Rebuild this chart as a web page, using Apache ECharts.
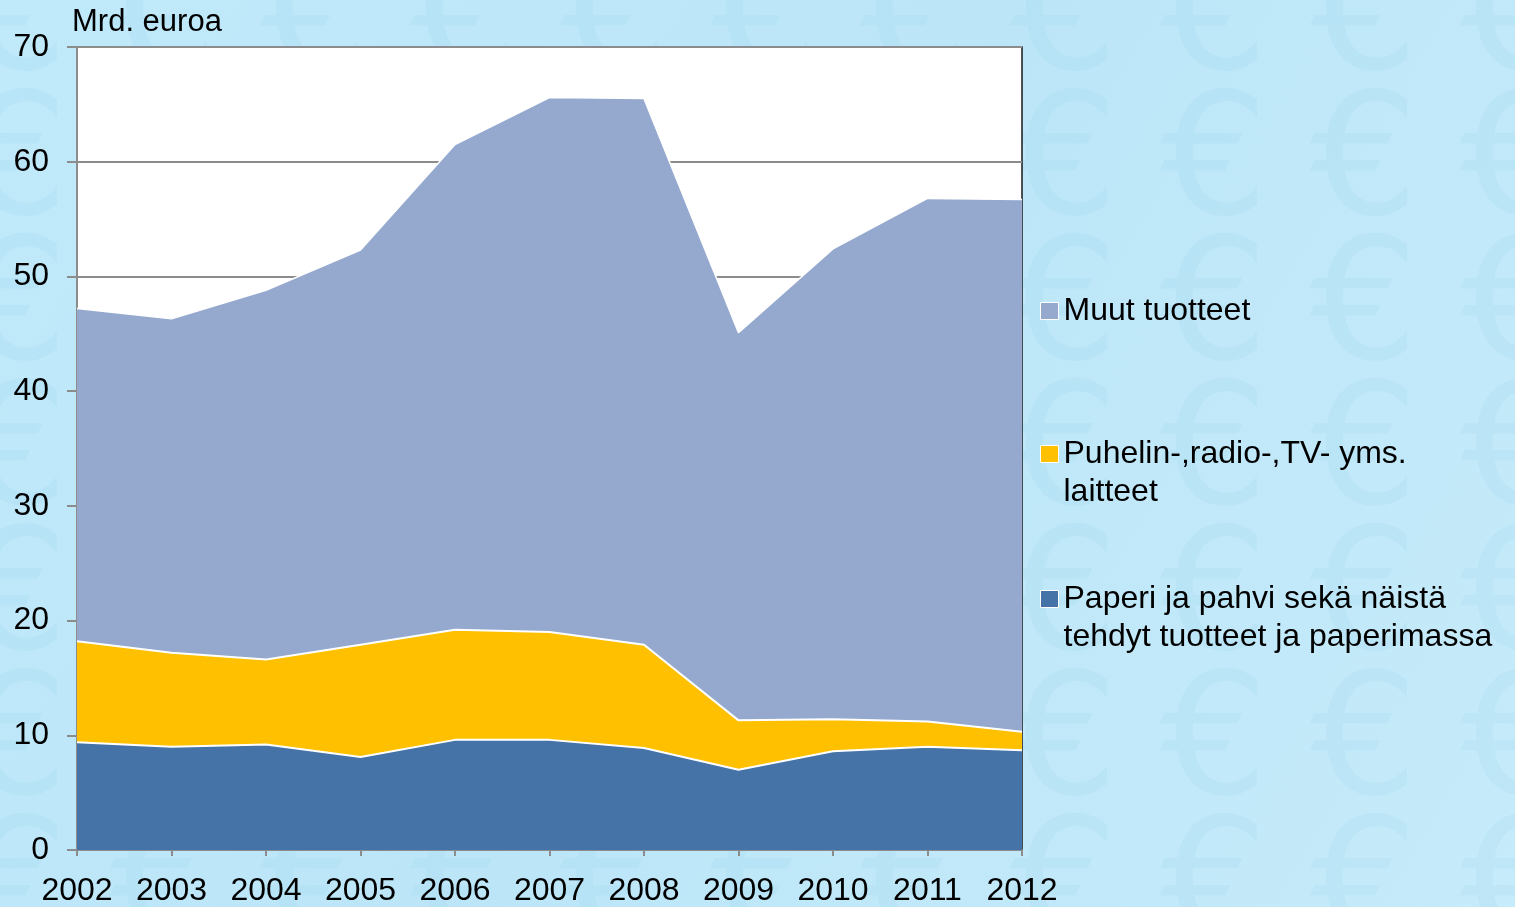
<!DOCTYPE html>
<html>
<head>
<meta charset="utf-8">
<script src="https://cdn.jsdelivr.net/npm/echarts@6/dist/echarts.min.js"></script>
<style>
html,body{margin:0;padding:0;}
#c{width:1515px;height:907px;}
</style>
</head>
<body>
<div id="c"></div>
<script>
const years = ['2002','2003','2004','2005','2006','2007','2008','2009','2010','2011','2012'];
const paperi = [9.4, 9.0, 9.2, 8.1, 9.6, 9.6, 8.9, 7.0, 8.6, 9.0, 8.7];
const puhelin = [8.8, 8.2, 7.4, 9.8, 9.6, 9.4, 9.0, 4.3, 2.8, 2.2, 1.6];
const muut = [29.0, 29.1, 32.2, 34.4, 42.3, 46.6, 47.6, 33.8, 41.0, 45.6, 46.4];
const yTicks = [0, 10, 20, 30, 40, 50, 60, 70];

const nameMuut = 'Muut tuotteet';
const namePuhelin = 'Puhelin-,radio-,TV- yms.\nlaitteet';
const namePaperi = 'Paperi ja pahvi sekä näistä\ntehdyt tuotteet ja paperimassa';

const FONT = '"Liberation Sans", Arial, sans-serif';

// decorative euro watermark
const deco = [];
for (let r = 0; r < 8; r++) {
  for (let c = 0; c < 11; c++) {
    deco.push({
      type: 'text', silent: true, z: -10,
      left: -40 + c * 150, top: -60 + r * 145,
      style: { text: '€', font: '170px "DejaVu Sans", sans-serif', fill: 'rgba(110,185,225,0.09)' }
    });
  }
}

const chart = echarts.init(document.getElementById('c'));
const legendBase = {
  orient: 'vertical', left: 1040, padding: 0,
  itemWidth: 18, itemHeight: 17,
  icon: 'rect',
  itemStyle: { borderColor: '#ffffff', borderWidth: 1 },
  textStyle: { fontFamily: FONT, fontSize: 32, color: '#000', lineHeight: 38 }
};
chart.setOption({
  backgroundColor: {
    type: 'linear', x: 0, y: 0, x2: 1, y2: 1,
    colorStops: [{ offset: 0, color: '#c0e9fa' }, { offset: 0.5, color: '#bce6f8' }, { offset: 1, color: '#c6ebfa' }]
  },
  graphic: deco,
  grid: {
    left: 77, right: 493, top: 47, bottom: 56,
    show: true, backgroundColor: '#ffffff', borderColor: '#1a1a1a', borderWidth: 1.5
  },
  legend: [
    Object.assign({}, legendBase, { top: 292, data: [nameMuut] }),
    Object.assign({}, legendBase, { top: 397, data: [namePuhelin], formatter: n => '\n' + n }),
    Object.assign({}, legendBase, { top: 542, data: [namePaperi], formatter: n => '\n' + n })
  ],
  xAxis: {
    type: 'category', data: years, boundaryGap: false,
    axisLine: { lineStyle: { color: '#8c8c8c', width: 2 } },
    axisTick: { show: true, length: 6, lineStyle: { color: '#8c8c8c', width: 2 } },
    axisLabel: { fontFamily: FONT, fontSize: 32, color: '#000', margin: 25 },
    splitLine: { show: false }
  },
  yAxis: {
    type: 'value', min: 0, max: 70, interval: 10,
    name: 'Mrd. euroa', nameLocation: 'end', nameGap: 9,
    nameTextStyle: { fontFamily: FONT, fontSize: 31, color: '#000', align: 'left', padding: [0, 0, 0, -5] },
    axisLine: { show: true, lineStyle: { color: '#8c8c8c', width: 2 } },
    axisTick: { show: true, length: 10, lineStyle: { color: '#8c8c8c', width: 2 } },
    axisLabel: { fontFamily: FONT, fontSize: 32, color: '#000', margin: 28, padding: [4, 0, 0, 0],
      formatter: v => yTicks.includes(v) ? String(v) : '' },
    splitLine: { show: true, lineStyle: { color: '#8c8c8c', width: 2 } }
  },
  series: [
    { name: namePaperi, type: 'line', stack: 'a', data: paperi, symbol: 'none',
      color: '#4572a7', lineStyle: { color: '#ffffff', width: 2 }, areaStyle: { color: '#4572a7', opacity: 1 } },
    { name: namePuhelin, type: 'line', stack: 'a', data: puhelin, symbol: 'none',
      color: '#ffc000', lineStyle: { color: '#ffffff', width: 2 }, areaStyle: { color: '#ffc000', opacity: 1 } },
    { name: nameMuut, type: 'line', stack: 'a', data: muut, symbol: 'none',
      color: '#95a9cf', lineStyle: { color: '#ffffff', width: 1.5 }, areaStyle: { color: '#95a9cf', opacity: 1 } }
  ],
  animation: false
});
</script>
</body>
</html>
